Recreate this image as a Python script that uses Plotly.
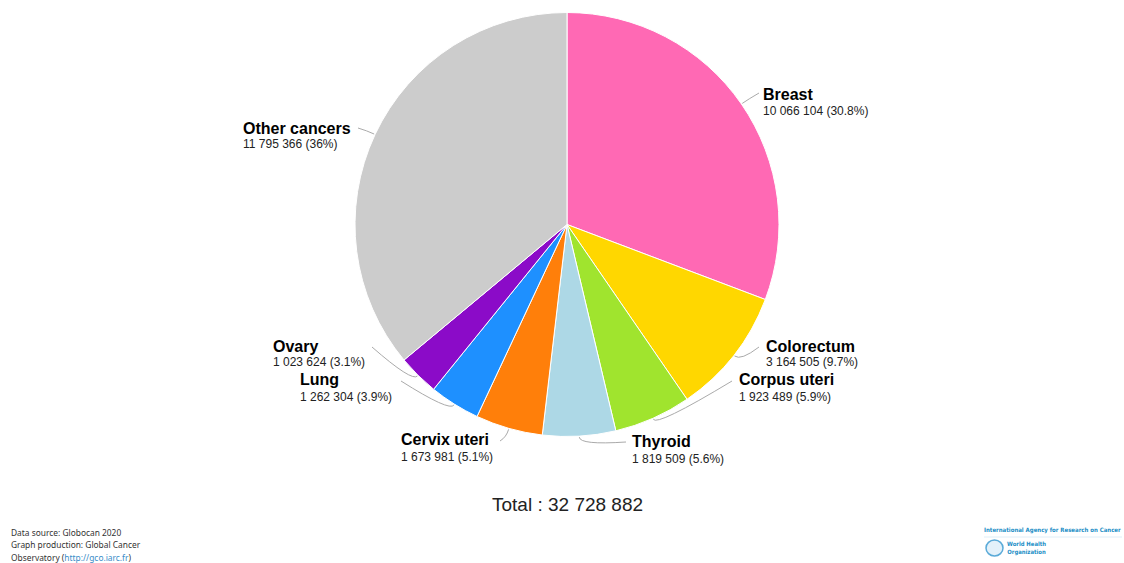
import math
import plotly.graph_objects as go

# ---- data ----
cancers = ["Breast", "Colorectum", "Corpus uteri", "Thyroid", "Cervix uteri",
           "Lung", "Ovary", "Other cancers"]
cases = [10066104, 3164505, 1923489, 1819509, 1673981, 1262304, 1023624, 11795366]
colors = ["#ff69b4", "#ffd700", "#a0e42e", "#add8e6", "#ff7f0a",
          "#1e90ff", "#8b0bc8", "#cccccc"]

# ---- layout config (pixels) ----
W, H = 1124, 563
CX, CY, R = 567, 224.5, 212
label_left = [761, 764, 737, 630, 399, 298, 271, 241]
label_y = [95, 346, 380, 441, 439, 380, 346, 128]
value_dy = [16, 16, 17, 18, 18, 17, 16, 16]
conn_end = [(759, 93), (759, 347), (732, 381), (626, 442),
            (500, 441), (401, 381), (372, 347), (358, 128)]


def px(x):
    return x / W


def py(y):
    return 1 - y / H


def fmt(n):
    return f"{n:,}".replace(",", " ")


total = sum(cases)

fig = go.Figure(go.Pie(
    labels=cancers, values=cases, sort=False, direction="clockwise",
    rotation=0, textinfo="none", hoverinfo="label+value+percent",
    marker=dict(colors=colors, line=dict(color="white", width=1)),
    domain=dict(x=[(CX - R) / W, (CX + R) / W],
                y=[1 - (CY + R) / H, 1 - (CY - R) / H]),
    showlegend=False,
))

annotations = []
shapes = []
cum = 0
for i, (name, v) in enumerate(zip(cancers, cases)):
    frac = v / total
    mid = (cum + frac / 2) * 2 * math.pi
    cum += frac
    pct = f"{frac * 100:.1f}".rstrip("0").rstrip(".")
    annotations.append(dict(
        x=px(label_left[i]), y=py(label_y[i]), xref="paper", yref="paper",
        xanchor="left", yanchor="middle", showarrow=False,
        text=f"<b>{name}</b>",
        font=dict(family="Liberation Sans, Arial", size=16, color="#000000")))
    annotations.append(dict(
        x=px(label_left[i]), y=py(label_y[i] + value_dy[i]), xref="paper", yref="paper",
        xanchor="left", yanchor="middle", showarrow=False,
        text=f"{fmt(v)} ({pct}%)",
        font=dict(family="Liberation Sans, Arial", size=12, color="#222222")))
    sx, sy = CX + (R + 1) * math.sin(mid), CY - (R + 1) * math.cos(mid)
    kx, ky = CX + (R + 9) * math.sin(mid), CY - (R + 9) * math.cos(mid)
    ex, ey = conn_end[i]
    shapes.append(dict(
        type="path", xref="paper", yref="paper",
        path=f"M {px(sx)},{py(sy)} Q {px(kx)},{py(ky)} {px(ex)},{py(ey)}",
        line=dict(color="#aaaaaa", width=1)))

annotations.append(dict(
    x=px(CX), y=py(504), xref="paper", yref="paper", xanchor="center",
    yanchor="middle", showarrow=False, text=f"Total : {fmt(total)}",
    font=dict(family="Liberation Sans, Arial", size=19, color="#222222")))

foot = ["Data source: Globocan 2020", "Graph production: Global Cancer",
        "Observatory (<span style='color:#3a8dc8'>http://gco.iarc.fr</span>)"]
for j, t in enumerate(foot):
    annotations.append(dict(
        x=px(9), y=py(532 + 12.5 * j), xref="paper", yref="paper",
        xanchor="left", yanchor="middle", showarrow=False, text=t,
        font=dict(family="Noto Sans, Open Sans", size=8.4, color="#333333")))

annotations.append(dict(
    x=px(1123), y=py(530), xref="paper", yref="paper", xanchor="right",
    yanchor="middle", showarrow=False,
    text="<b>International Agency for Research on Cancer</b>",
    font=dict(family="DejaVu Sans Condensed, Liberation Sans", size=6.0, color="#1b8ec6")))
annotations.append(dict(
    x=px(1005), y=py(548), xref="paper", yref="paper", xanchor="left",
    yanchor="middle", showarrow=False,
    text="<b>World Health</b><br><b>Organization</b>",
    font=dict(family="DejaVu Sans Condensed, Liberation Sans", size=5.9, color="#1b8ec6")))
shapes.append(dict(type="line", xref="paper", yref="paper",
                   x0=px(984), x1=px(1122), y0=py(537), y1=py(537),
                   line=dict(color="#dfeef7", width=1)))
shapes.append(dict(type="circle", xref="paper", yref="paper",
                   x0=px(986), x1=px(1003), y0=py(556), y1=py(540),
                   line=dict(color="#5aaad8", width=1.5), fillcolor="#e3f1fa"))

fig.update_layout(
    width=W, height=H, autosize=False,
    margin=dict(l=0, r=0, t=0, b=0),
    paper_bgcolor="white", plot_bgcolor="white",
    annotations=annotations, shapes=shapes,
)

fig.write_html("out.html")
